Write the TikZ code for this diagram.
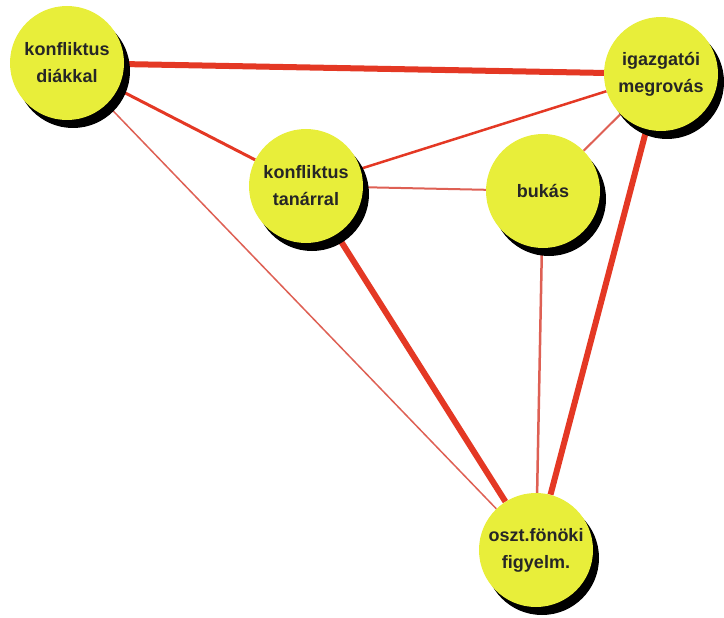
\documentclass[tikz,border=0pt]{standalone}
\usepackage{fontspec}
\setmainfont{Liberation Sans}
\usepackage{tikz}
\usepackage{xcolor}
\usetikzlibrary{positioning, calc, shadows}

\definecolor{ballyellow}{RGB}{232,238,58}
\definecolor{linkred}{RGB}{228,56,36}
\definecolor{palered}{RGB}{222,96,84}
\pgfdeclarelayer{background}
\pgfsetlayers{background,main}

\begin{document}
\begin{tikzpicture}[x=1pt, y=-1pt,
    ball/.style={circle, fill=ballyellow, minimum size=114pt, inner sep=0pt,
        align=center, text=black!85, font=\bfseries\fontsize{18}{27}\selectfont,
        drop shadow={shadow xshift=6pt, shadow yshift=-8pt, opacity=1, fill=black}},
    heavy/.style={linkred, line width=6pt},
    medium/.style={linkred, line width=3pt},
    light/.style={palered, line width=2pt}]
    \useasboundingbox (0,0) rectangle (724,618);
    \node[ball] (dia) at (67,63) {konfliktus\\diákkal};
    \node[ball] (igaz) at (661,74) {igazgatói\\megrovás};
    \node[ball] (tan) at (306,186) {konfliktus\\tanárral};
    \node[ball] (buk) at (543,191) {bukás};
    \node[ball] (oszt) at (536,550) {oszt.fönöki\\figyelm.};
    \begin{pgfonlayer}{background}
    \draw[heavy] (dia) -- (igaz);
    \draw[medium] (dia) -- (tan);
    \draw[light, line width=1.5pt] (dia) -- (oszt);
    \draw[medium, line width=2.5pt] (tan) -- (igaz);
    \draw[light] (tan) -- (buk);
    \draw[heavy] (tan) -- (oszt);
    \draw[light] (buk) -- (igaz);
    \draw[light, line width=2.5pt] (buk) -- (oszt);
    \draw[heavy] (igaz) -- (oszt);
    \end{pgfonlayer}
\end{tikzpicture}
\end{document}
